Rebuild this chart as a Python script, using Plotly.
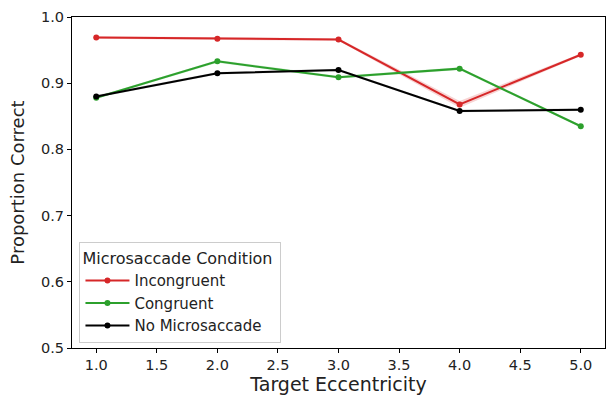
import plotly.graph_objects as go

ecc = [1.0, 2.0, 3.0, 4.0, 5.0]
incongruent = [0.969, 0.967, 0.966, 0.868, 0.943]
congruent = [0.878, 0.933, 0.909, 0.922, 0.835]
no_micro = [0.880, 0.915, 0.920, 0.858, 0.860]
err_incong = [0.002, 0.002, 0.002, 0.005, 0.002]
err_cong = [0.002, 0.002, 0.002, 0.002, 0.002]
err_none = [0.002, 0.002, 0.002, 0.002, 0.002]

series = [
    ("Incongruent", incongruent, err_incong, "#d62728", "rgba(214,39,40,0.2)"),
    ("Congruent", congruent, err_cong, "#2ca02c", "rgba(44,160,44,0.2)"),
    ("No Microsaccade", no_micro, err_none, "#000000", "rgba(0,0,0,0.15)"),
]

fig = go.Figure()
for name, vals, err, color, fill in series:
    upper = [v + e for v, e in zip(vals, err)]
    lower = [v - e for v, e in zip(vals, err)]
    fig.add_trace(go.Scatter(x=ecc + ecc[::-1], y=upper + lower[::-1], fill="toself",
                             mode="lines", fillcolor=fill, line=dict(width=0),
                             hoverinfo="skip", showlegend=False))
for name, vals, err, color, fill in series:
    fig.add_trace(go.Scatter(x=ecc, y=vals, mode="lines+markers", name=name,
                             line=dict(color=color, width=2),
                             marker=dict(color=color, size=6)))

fig.update_layout(
    width=606, height=395,
    margin=dict(l=72, r=1, t=17, b=47),
    paper_bgcolor="white", plot_bgcolor="white",
    font=dict(family="DejaVu Sans", size=14, color="#222222"),
    legend=dict(
        title=dict(text="Microsaccade Condition ", font=dict(size=16)),
        x=0.014, y=0.014, xanchor="left", yanchor="bottom",
        bgcolor="rgba(255,255,255,0.8)", bordercolor="#cccccc", borderwidth=1,
        font=dict(size=15), tracegroupgap=0, itemwidth=44,
    ),
    xaxis=dict(
        range=[0.8, 5.2], tickvals=[1.0, 1.5, 2.0, 2.5, 3.0, 3.5, 4.0, 4.5, 5.0],
        ticktext=["1.0", "1.5", "2.0", "2.5", "3.0", "3.5", "4.0", "4.5", "5.0"],
        showgrid=False, zeroline=False, showline=True, linecolor="black", linewidth=1,
        mirror=True, ticks="outside", ticklen=4, tickcolor="black",
        tickfont=dict(size=14.5),
        title=dict(text="Target Eccentricity", font=dict(size=19), standoff=6),
    ),
    yaxis=dict(
        range=[0.5, 1.0], tickvals=[0.5, 0.6, 0.7, 0.8, 0.9, 1.0],
        ticktext=["0.5", "0.6", "0.7", "0.8", "0.9", "1.0"],
        showgrid=False, zeroline=False, showline=True, linecolor="black", linewidth=1,
        mirror=True, ticks="outside", ticklen=4, tickcolor="black",
        tickfont=dict(size=14.5),
        title=dict(text="Proportion Correct", font=dict(size=18), standoff=11),
    ),
)

fig.write_html("out.html")
